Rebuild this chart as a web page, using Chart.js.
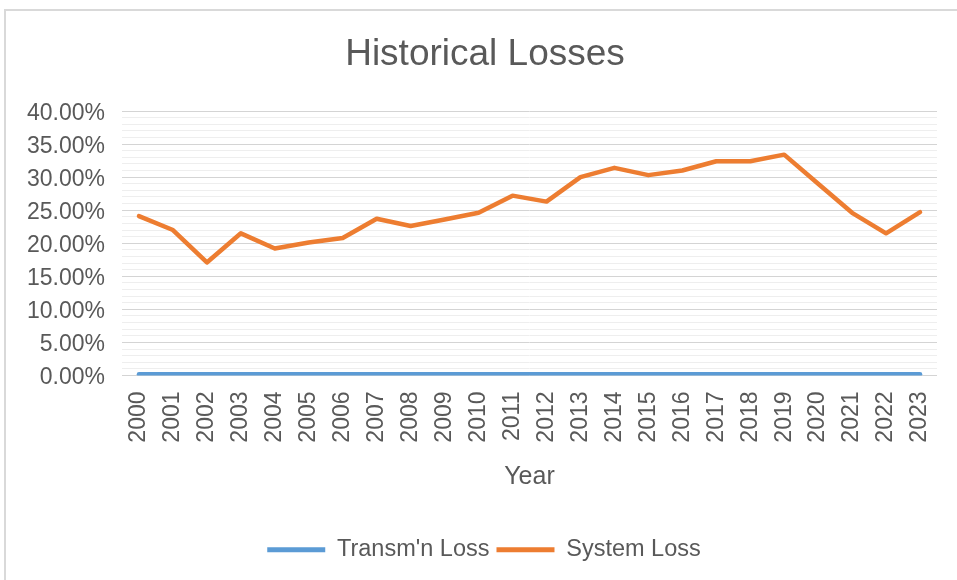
<!DOCTYPE html>
<html>
<head>
<meta charset="utf-8">
<script src="https://cdn.jsdelivr.net/npm/chart.js@4.4.1/dist/chart.umd.min.js"></script>
<style>
  html, body { margin: 0; padding: 0; background: #ffffff; }
  #wrap { position: relative; width: 957px; height: 580px; overflow: hidden; }
  #frame { position: absolute; left: 4px; top: 9px; right: -4px; bottom: -4px;
           border-left: 2px solid #D9D9D9; border-top: 2px solid #D9D9D9; }
  canvas { position: absolute; left: 0; top: 0; }
</style>
</head>
<body>
<div id="wrap">
  <div id="frame"></div>
  <canvas id="c" width="957" height="580"></canvas>
</div>
<script>
// ---- data (percent) ----
const years = ['2000','2001','2002','2003','2004','2005','2006','2007','2008','2009','2010','2011',
               '2012','2013','2014','2015','2016','2017','2018','2019','2020','2021','2022','2023'];
const transmLoss = [0.2,0.2,0.2,0.2,0.2,0.2,0.2,0.2,0.2,0.2,0.2,0.2,
                    0.2,0.2,0.2,0.2,0.2,0.2,0.2,0.2,0.2,0.2,0.2,0.2];
const systemLoss = [24.1,22.0,17.1,21.5,19.2,20.1,20.8,23.7,22.6,23.6,24.6,27.2,
                    26.3,30.0,31.4,30.3,31.0,32.4,32.4,33.4,29.0,24.6,21.5,24.7];
const seriesNames = ["Transm'n Loss", 'System Loss'];
const chartTitle = 'Historical Losses';
const xTitle = 'Year';
const yMin = 0, yMax = 40, yMajor = 5, yMinor = 1;

const FONT = "'Liberation Sans', Arial, sans-serif";
const TXT = '#595959';
const BLUE = '#5B9BD5';
const ORANGE = '#ED7D31';

// shift title and legend horizontally (the source centres them on the frame, not the page)
const shiftBlocks = {
  id: 'shiftBlocks',
  afterLayout(chart) {
    const t = chart.titleBlock;
    if (t) { t.left += 16.5; t.right += 16.5; }
    const l = chart.legend;
    if (l) { l.left += 15.5; l.right += 15.5; }
  }
};

new Chart(document.getElementById('c'), {
  type: 'line',
  data: {
    labels: years,
    datasets: [
      { label: seriesNames[0], data: transmLoss, borderColor: BLUE, backgroundColor: BLUE,
        borderWidth: 4.5, pointRadius: 0, tension: 0, borderJoinStyle: 'round', borderCapStyle: 'round' },
      { label: seriesNames[1], data: systemLoss, borderColor: ORANGE, backgroundColor: ORANGE,
        borderWidth: 4.5, pointRadius: 0, tension: 0, borderJoinStyle: 'round', borderCapStyle: 'round' }
    ]
  },
  plugins: [shiftBlocks],
  options: {
    responsive: false,
    animation: false,
    devicePixelRatio: 1,
    layout: { padding: { left: 0, right: 20, top: 0, bottom: 8.5 } },
    plugins: {
      tooltip: { enabled: false },
      title: {
        display: true, text: chartTitle, color: TXT,
        font: { family: FONT, size: 37, weight: 'normal' },
        padding: { top: 33, bottom: 33.6 }
      },
      legend: {
        position: 'bottom',
        labels: {
          color: TXT, font: { family: FONT, size: 23.5 },
          boxWidth: 58, boxHeight: 5, padding: 7,
          generateLabels: (chart) => Chart.defaults.plugins.legend.labels.generateLabels(chart)
            .map(l => Object.assign(l, { lineWidth: 0, fillStyle: l.strokeStyle }))
        }
      }
    },
    scales: {
      x: {
        type: 'category',
        offset: true,
        grid: { display: false, drawTicks: false },
        border: { display: false },
        ticks: { color: TXT, font: { family: FONT, size: 23 }, minRotation: 90, maxRotation: 90,
                 padding: 16, autoSkip: false },
        title: { display: true, text: xTitle, color: TXT, font: { family: FONT, size: 25 },
                 padding: { top: 0, bottom: 38.5 } },
        afterFit: (s) => { s.height = 155.5; s.paddingLeft = 0; s.paddingRight = 0; }
      },
      y: {
        min: yMin, max: yMax,
        grid: {
          drawTicks: false,
          color: (ctx) => (ctx.tick && ctx.tick.value % yMajor === 0) ? '#D4D4D4' : '#EEEEEE',
          lineWidth: 1
        },
        border: { display: false },
        ticks: {
          stepSize: yMinor, autoSkip: false, padding: 17, color: TXT, labelOffset: 2.5,
          font: { family: FONT, size: 23 },
          callback: (v) => (v % yMajor === 0) ? v.toFixed(2) + '%' : ''
        },
        afterFit: (s) => { s.width = 122; }
      }
    }
  }
});
</script>
</body>
</html>
